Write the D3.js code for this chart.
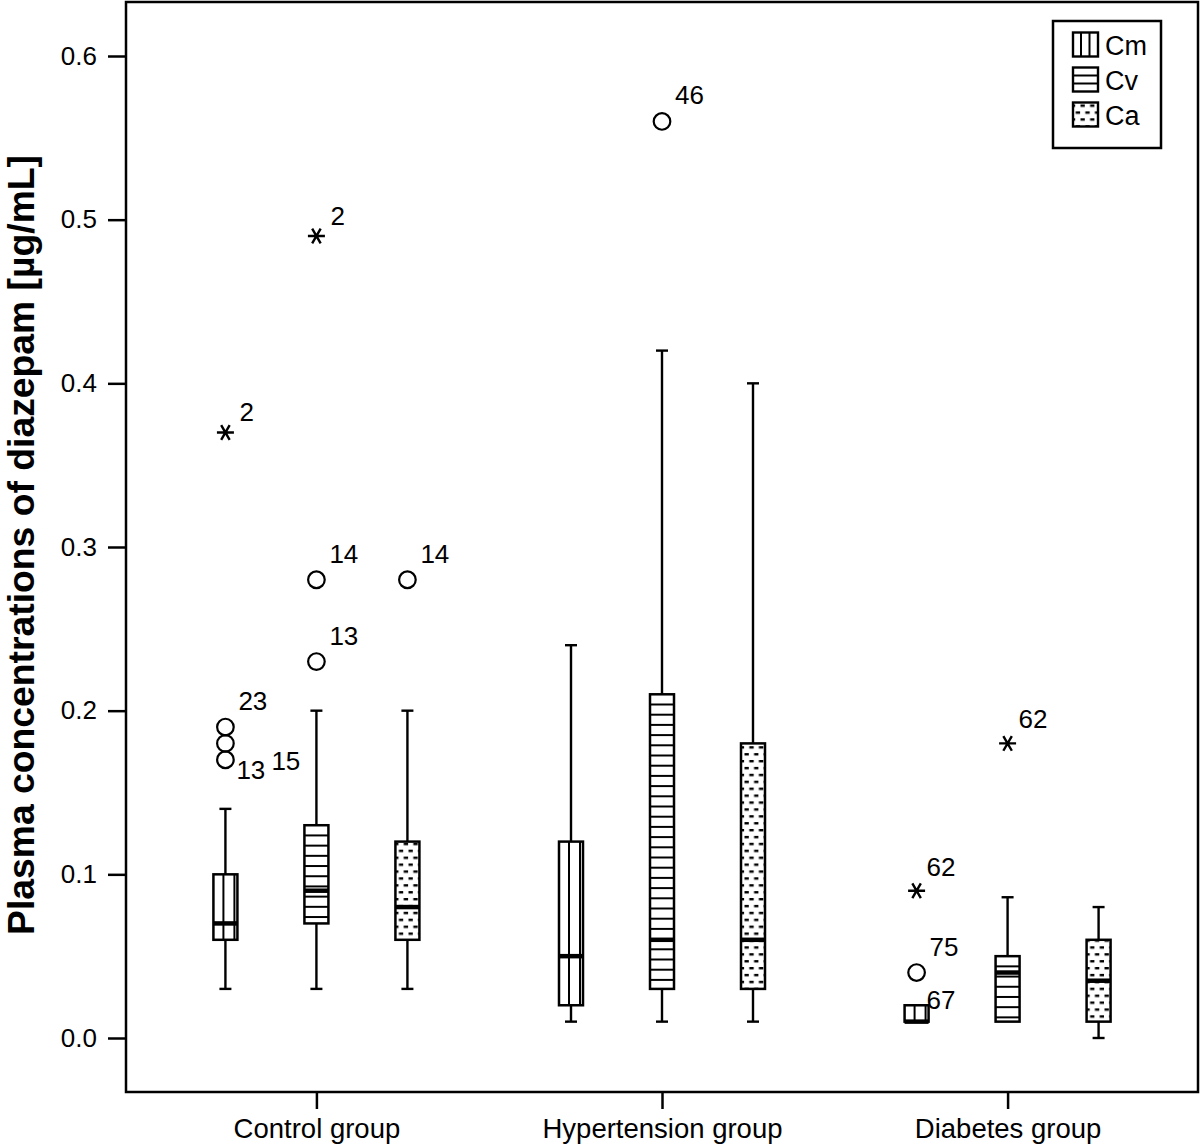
<!DOCTYPE html>
<html><head><meta charset="utf-8">
<script src="https://cdn.jsdelivr.net/npm/d3@7"></script>
<style>body{margin:0;background:#fff}</style>
</head><body><svg id="c" width="1200" height="1144" xmlns="http://www.w3.org/2000/svg"></svg>
<script>
// ---------- DATA ----------
const groups = ["Control group", "Hypertension group", "Diabetes group"];
const seriesNames = ["Cm", "Cv", "Ca"];
const yTicks = [0.0, 0.1, 0.2, 0.3, 0.4, 0.5, 0.6];
const yTitle = "Plasma concentrations of diazepam [\u00b5g/mL]";
// per group: [whisker low, Q1, median, Q3, whisker high]
const boxCm = [[0.03, 0.06, 0.07, 0.10, 0.14], [0.01, 0.02, 0.05, 0.12, 0.24], [0.01, 0.01, 0.01, 0.02, 0.02]];
const boxCv = [[0.03, 0.07, 0.09, 0.13, 0.20], [0.01, 0.03, 0.06, 0.21, 0.42], [0.01, 0.01, 0.04, 0.05, 0.086]];
const boxCa = [[0.03, 0.06, 0.08, 0.12, 0.20], [0.01, 0.03, 0.06, 0.18, 0.40], [0.00, 0.01, 0.035, 0.06, 0.08]];
// [group, series, value, kind (o = outlier, * = extreme, "" = label only), case label]
const outliers = [
  ["Control group", "Cm", 0.37, "*", "2"],
  ["Control group", "Cm", 0.19, "o", "23"],
  ["Control group", "Cm", 0.18, "o", "15"],
  ["Control group", "Cm", 0.17, "o", "13"],
  ["Control group", "Cv", 0.49, "*", "2"],
  ["Control group", "Cv", 0.28, "o", "14"],
  ["Control group", "Cv", 0.23, "o", "13"],
  ["Control group", "Ca", 0.28, "o", "14"],
  ["Hypertension group", "Cv", 0.56, "o", "46"],
  ["Diabetes group", "Cm", 0.09, "*", "62"],
  ["Diabetes group", "Cm", 0.04, "o", "75"],
  ["Diabetes group", "Cm", 0.02, "", "67"],
  ["Diabetes group", "Cv", 0.18, "*", "62"]
];

// ---------- LAYOUT ----------
const boxes = {Cm: boxCm, Cv: boxCv, Ca: boxCa};
const L = 126, R = 1198, T = 2, B = 1092;
const FONT = "'Liberation Sans', Arial, sans-serif";
const labelNudge = { // label offsets [dx, dy] relative to the point
  "Control group|Cm|13": [11, 19],
  "Control group|Cm|15": [46, 27],
  "Control group|Cm|2": [14, -11],
  "Control group|Cv|2": [14, -11],
  "Diabetes group|Cm|67": [10, 4],
  "Diabetes group|Cm|62": [10, -15],
  "Diabetes group|Cv|62": [11, -15]
};
const defaultNudge = [13, -17];

const svg = d3.select("#c");
const y = d3.scaleLinear().domain([0, 0.6]).range([1038, 56]);
const x = d3.scalePoint().domain(groups).range([L, R]).padding(0.551);
const xs = d3.scalePoint().domain(seriesNames).range([-91, 91]);

const defs = svg.append("defs");
const dots = defs.append("pattern").attr("id", "dots").attr("patternUnits", "userSpaceOnUse")
  .attr("width", 9.6).attr("height", 13.8);
dots.append("rect").attr("x", 0.5).attr("y", 1).attr("width", 4.4).attr("height", 2.4).attr("fill", "#000");
dots.append("rect").attr("x", 5.3).attr("y", 7.9).attr("width", 4.4).attr("height", 2.4).attr("fill", "#000");

// axes
const yAxis = d3.axisLeft(y).tickValues(yTicks).tickFormat(d3.format(".1f")).tickSize(18).tickPadding(11);
const gy = svg.append("g").attr("transform", `translate(${L},0)`).call(yAxis);
const xAxis = d3.axisBottom(x).tickSize(17).tickPadding(9);
const gx = svg.append("g").attr("transform", `translate(0,${B})`).call(xAxis);
[gy, gx].forEach(g => {
  g.select(".domain").remove();
  g.selectAll(".tick line").attr("stroke", "#000").attr("stroke-width", 2.5);
  g.selectAll(".tick text").attr("fill", "#000").style("font-family", FONT).style("font-size", "26px");
});
gx.selectAll(".tick text").style("font-size", "27.5px");

svg.append("rect").attr("x", L).attr("y", T).attr("width", R - L).attr("height", B - T)
  .attr("fill", "none").attr("stroke", "#000").attr("stroke-width", 2.5);

svg.append("text").attr("transform", "translate(34,545) rotate(-90)")
  .attr("text-anchor", "middle").style("font-family", FONT).style("font-weight", "bold")
  .style("font-size", "36px").attr("textLength", 780).attr("lengthAdjust", "spacingAndGlyphs")
  .text(yTitle);

// boxes
const HW = 12, CAP = 6;
function drawFill(g, s, x0, y0, w, h) {
  if (s === "Cm") {
    for (let k = 10; k < w - 1.5; k += 11)
      g.append("line").attr("x1", x0 + k).attr("x2", x0 + k).attr("y1", y0).attr("y2", y0 + h)
        .attr("stroke", "#000").attr("stroke-width", 2);
  } else if (s === "Cv") {
    for (let k = 10.2; k < h - 2; k += 10.2)
      g.append("line").attr("x1", x0).attr("x2", x0 + w).attr("y1", y0 + k).attr("y2", y0 + k)
        .attr("stroke", "#000").attr("stroke-width", 2);
  } else {
    g.append("rect").attr("x", x0).attr("y", y0).attr("width", w).attr("height", h).attr("fill", "url(#dots)");
  }
}

seriesNames.forEach(s => {
  groups.forEach((grp, gi) => {
    const [lo, q1, md, q3, hi] = boxes[s][gi];
    const cx = x(grp) + xs(s);
    const g = svg.append("g");
    const ln = (x1, y1, x2, y2, w) => g.append("line").attr("x1", x1).attr("y1", y1).attr("x2", x2).attr("y2", y2)
      .attr("stroke", "#000").attr("stroke-width", w || 2.4);
    if (hi > q3) { ln(cx, y(hi), cx, y(q3)); ln(cx - CAP, y(hi), cx + CAP, y(hi)); }
    if (lo < q1) { ln(cx, y(q1), cx, y(lo)); ln(cx - CAP, y(lo), cx + CAP, y(lo)); }
    const y0 = y(q3), h = y(q1) - y(q3);
    g.append("rect").attr("x", cx - HW).attr("y", y0).attr("width", 2 * HW).attr("height", h).attr("fill", "#fff");
    drawFill(g, s, cx - HW, y0, 2 * HW, h);
    g.append("rect").attr("x", cx - HW).attr("y", y0).attr("width", 2 * HW).attr("height", h)
      .attr("fill", "none").attr("stroke", "#000").attr("stroke-width", 2.5);
    ln(cx - HW, y(md), cx + HW, y(md), 4.5);
  });
});

// outliers
outliers.forEach(([grp, s, v, kind, lab]) => {
  const cx = x(grp) + xs(s), cy = y(v);
  if (kind === "o") {
    svg.append("circle").attr("cx", cx).attr("cy", cy).attr("r", 8.3)
      .attr("fill", "none").attr("stroke", "#000").attr("stroke-width", 2.2);
  } else if (kind === "*") {
    const r = 8.5;
    const p = d3.path();
    [0, 60, 120].forEach(a => {
      const t = a * Math.PI / 180;
      p.moveTo(cx - r * Math.cos(t), cy - r * Math.sin(t));
      p.lineTo(cx + r * Math.cos(t), cy + r * Math.sin(t));
    });
    svg.append("path").attr("d", p.toString()).attr("stroke", "#000").attr("stroke-width", 2.4).attr("fill", "none");
  }
  const nd = labelNudge[`${grp}|${s}|${lab}`] || defaultNudge;
  svg.append("text").attr("x", cx + nd[0]).attr("y", cy + nd[1])
    .style("font-family", FONT).style("font-size", "26px").attr("fill", "#000").text(lab);
});

// legend
const lg = svg.append("g");
lg.append("rect").attr("x", 1053).attr("y", 21).attr("width", 108).attr("height", 127)
  .attr("fill", "#fff").attr("stroke", "#000").attr("stroke-width", 2.5);
seriesNames.forEach((s, i) => {
  const cy = 44.5 + i * 35;
  const sx = 1073, sy = cy - 12, sw = 25, sh = 24;
  lg.append("rect").attr("x", sx).attr("y", sy).attr("width", sw).attr("height", sh).attr("fill", "#fff");
  if (s === "Cm") {
    [8, 16.5].forEach(k => lg.append("line").attr("x1", sx + k).attr("x2", sx + k).attr("y1", sy).attr("y2", sy + sh)
      .attr("stroke", "#000").attr("stroke-width", 2));
  } else if (s === "Cv") {
    [8, 16].forEach(k => lg.append("line").attr("x1", sx).attr("x2", sx + sw).attr("y1", sy + k).attr("y2", sy + k)
      .attr("stroke", "#000").attr("stroke-width", 2));
  } else {
    lg.append("rect").attr("x", sx).attr("y", sy).attr("width", sw).attr("height", sh).attr("fill", "url(#dots)");
  }
  lg.append("rect").attr("x", sx).attr("y", sy).attr("width", sw).attr("height", sh)
    .attr("fill", "none").attr("stroke", "#000").attr("stroke-width", 2.4);
  lg.append("text").attr("x", 1105).attr("y", cy + 10).style("font-family", FONT).style("font-size", "27px")
    .attr("fill", "#000").text(s);
});
</script>
</body></html>
